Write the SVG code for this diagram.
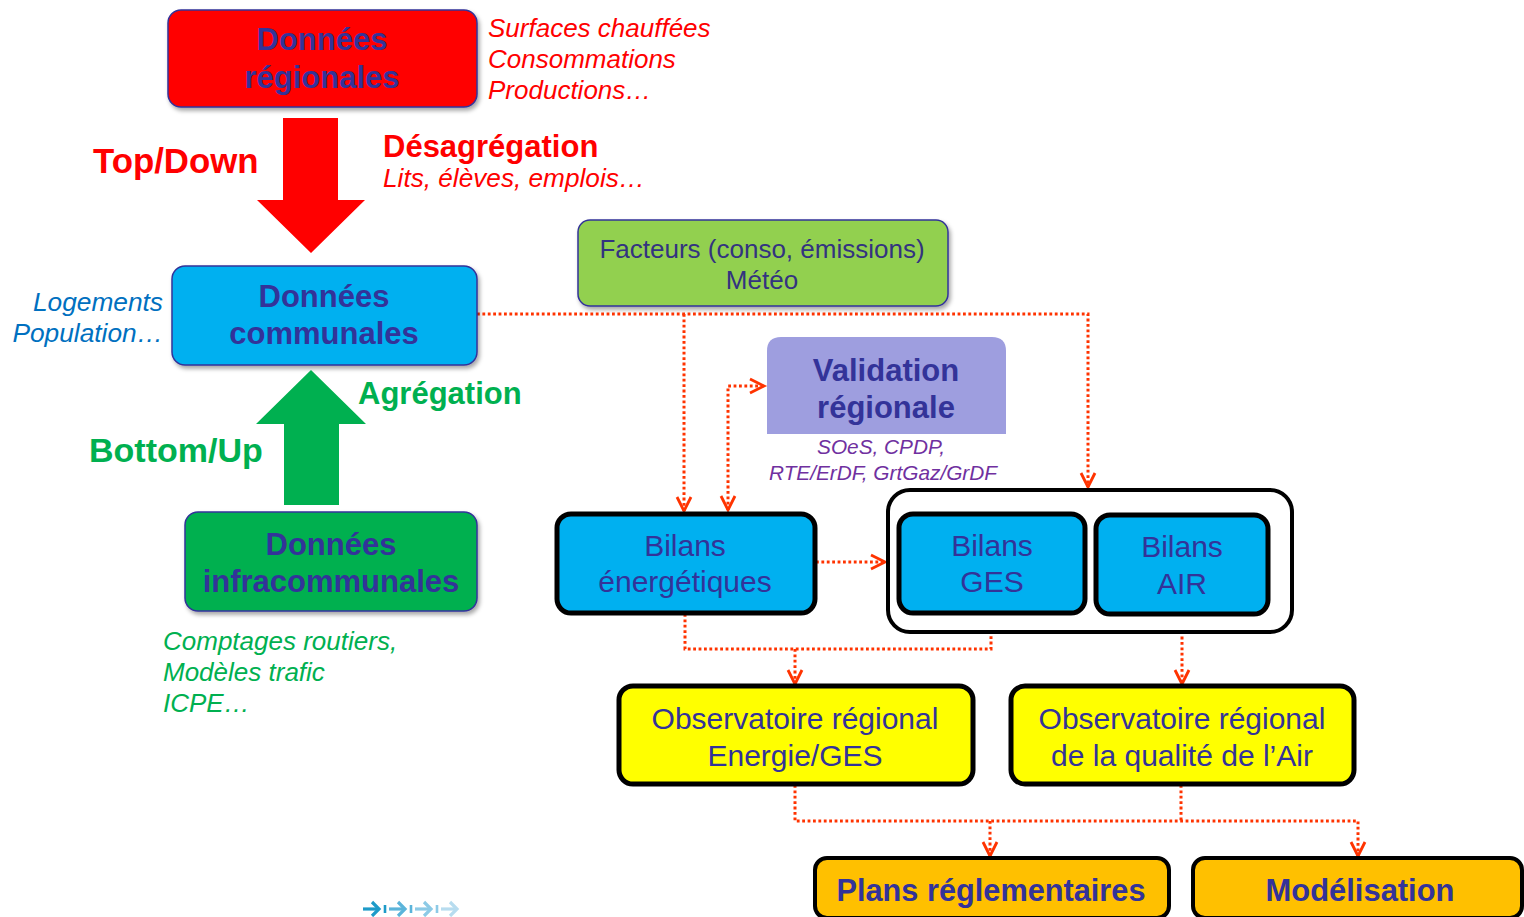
<svg xmlns="http://www.w3.org/2000/svg" width="1524" height="917" viewBox="0 0 1524 917">
<defs>
<filter id="sh" x="-10%" y="-10%" width="125%" height="130%">
<feDropShadow dx="2" dy="3" stdDeviation="2" flood-color="#000" flood-opacity="0.35"/>
</filter>
<marker id="ah" markerUnits="userSpaceOnUse" markerWidth="20" markerHeight="20" refX="0" refY="0" viewBox="-16 -10 20 20" orient="auto-start-reverse">
<path d="M-14,-7 L0,0 L-14,7" fill="none" stroke="#ff3300" stroke-width="2.8" stroke-dasharray="none"/>
</marker>
<style>
.t{font-family:"Liberation Sans",Arial,sans-serif;}
.hb{font-weight:bold;fill:#333399;font-size:31px;text-anchor:middle;}
.hn{fill:#333399;font-size:30px;text-anchor:middle;}
.it{font-style:italic;}
.box{stroke:#333399;stroke-width:1.5;}
.bk{stroke:#000;stroke-width:5;}
.con{fill:none;stroke:#ff3300;stroke-width:3;stroke-dasharray:2.8 2.6;}
</style>
</defs>
<rect width="1524" height="917" fill="#fff"/>

<g id="connectors">
<path class="con" d="M477,314 H1088 V487" marker-end="url(#ah)"/>
<path class="con" d="M684,314 V511" marker-end="url(#ah)"/>
<path class="con" d="M728,510 V386 H764" marker-start="url(#ah)" marker-end="url(#ah)"/>
<path class="con" d="M816,562 H885" marker-end="url(#ah)"/>
<path class="con" d="M685,614 V649 H991 V614"/>
<path class="con" d="M795,649 V684" marker-end="url(#ah)"/>
<path class="con" d="M1182,615 V684" marker-end="url(#ah)"/>
<path class="con" d="M795,785 V821 H1358 V856" marker-end="url(#ah)"/>
<path class="con" d="M1181,785 V821"/>
<path class="con" d="M990,821 V856" marker-end="url(#ah)"/>
</g>

<g id="regionales">
<rect class="box" x="168" y="10" width="309" height="97" rx="13" fill="#ff0000" filter="url(#sh)"/>
<text class="t hb" x="322" y="50">Données</text>
<text class="t hb" x="322" y="88">régionales</text>
</g>
<g id="regionales-notes" class="t it" fill="#ff0000" font-size="26px">
<text x="488" y="37">Surfaces chauffées</text>
<text x="488" y="68">Consommations</text>
<text x="488" y="99">Productions…</text>
</g>

<g id="topdown">
<path d="M283,118 H338 V200 H365 L311,253 L257,200 H283 Z" fill="#ff0000"/>
<text class="t" x="93" y="173" font-size="34.8px" font-weight="bold" fill="#ff0000">Top/Down</text>
<text class="t" x="383" y="157" font-size="31px" font-weight="bold" fill="#ff0000">Désagrégation</text>
<text class="t it" x="383" y="187" font-size="26.2px" fill="#ff0000">Lits, élèves, emplois…</text>
</g>

<g id="facteurs">
<rect class="box" x="578" y="220" width="370" height="86" rx="12" fill="#92d050" filter="url(#sh)"/>
<text class="t" x="762" y="258" font-size="26px" fill="#333380" text-anchor="middle">Facteurs (conso, émissions)</text>
<text class="t" x="762" y="289" font-size="26px" fill="#333380" text-anchor="middle">Météo</text>
</g>

<g id="communales">
<rect class="box" x="172" y="266" width="305" height="99" rx="13" fill="#00b0f0" filter="url(#sh)"/>
<text class="t hb" x="324" y="307">Données</text>
<text class="t hb" x="324" y="344">communales</text>
</g>
<g id="communales-notes" class="t it" fill="#0070c0" font-size="26.3px" text-anchor="end">
<text x="163" y="311">Logements</text>
<text x="163" y="342">Population…</text>
</g>

<g id="bottomup">
<path d="M284,505 H339 V424 H366 L311,370 L256,424 H284 Z" fill="#00b050"/>
<text class="t" x="358" y="404" font-size="31px" font-weight="bold" fill="#00b050">Agrégation</text>
<text class="t" x="89" y="462" font-size="34px" font-weight="bold" fill="#00b050">Bottom/Up</text>
</g>

<g id="infracommunales">
<rect class="box" x="185" y="512" width="292" height="99" rx="13" fill="#00b050" filter="url(#sh)"/>
<text class="t hb" x="331" y="555">Données</text>
<text class="t hb" x="331" y="592">infracommunales</text>
</g>
<g id="infra-notes" class="t it" fill="#00b050" font-size="26px">
<text x="163" y="650">Comptages routiers,</text>
<text x="163" y="681">Modèles trafic</text>
<text x="163" y="712">ICPE…</text>
</g>

<g id="validation">
<path d="M767,434 V351 Q767,337 781,337 H992 Q1006,337 1006,351 V434 Z" fill="#9e9edf"/>
<text class="t hb" x="886" y="381">Validation</text>
<text class="t hb" x="886" y="418">régionale</text>
<text class="t it" x="881" y="454" font-size="20.8px" fill="#7030a0" text-anchor="middle">SOeS, CPDP,</text>
<text class="t it" x="883" y="480" font-size="20.8px" fill="#7030a0" text-anchor="middle">RTE/ErDF, GrtGaz/GrDF</text>
</g>

<g id="bilans-energetiques">
<rect class="bk" x="557" y="514" width="258" height="99" rx="14" fill="#00b0f0"/>
<text class="t hn" x="685" y="556">Bilans</text>
<text class="t hn" x="685" y="592">énergétiques</text>
</g>

<g id="bilans-groupe">
<rect x="888" y="490" width="404" height="142" rx="22" fill="#fff" stroke="#000" stroke-width="4"/>
</g>

<g id="bilans-ges">
<rect class="bk" x="899" y="514" width="186" height="99" rx="14" fill="#00b0f0"/>
<text class="t hn" x="992" y="556">Bilans</text>
<text class="t hn" x="992" y="592">GES</text>
</g>

<g id="bilans-air">
<rect class="bk" x="1096" y="515" width="172" height="99" rx="14" fill="#00b0f0"/>
<text class="t hn" x="1182" y="557">Bilans</text>
<text class="t hn" x="1182" y="594">AIR</text>
</g>

<g id="obs-energie">
<rect class="bk" x="619" y="686" width="354" height="98" rx="14" fill="#ffff00"/>
<text class="t hn" x="795" y="729" font-size="30.5px">Observatoire régional</text>
<text class="t hn" x="795" y="766" font-size="30.5px">Energie/GES</text>
</g>

<g id="obs-air">
<rect class="bk" x="1011" y="686" width="343" height="98" rx="14" fill="#ffff00"/>
<text class="t hn" x="1182" y="729" font-size="30.5px">Observatoire régional</text>
<text class="t hn" x="1182" y="766" font-size="30.5px">de la qualité de l’Air</text>
</g>

<g id="plans">
<rect x="815" y="858" width="354" height="60" rx="12" fill="#ffc000" stroke="#000" stroke-width="4"/>
<text class="t hb" x="991" y="901" font-size="34px" textLength="309" lengthAdjust="spacingAndGlyphs">Plans réglementaires</text>
</g>

<g id="modelisation">
<rect x="1193" y="858" width="329" height="60" rx="12" fill="#ffc000" stroke="#000" stroke-width="4"/>
<text class="t hb" x="1360" y="901" font-size="34px" textLength="189" lengthAdjust="spacingAndGlyphs">Modélisation</text>
</g>

<g id="logo" fill="none" stroke-width="3.2">
<g stroke="#1e9bc8"><path d="M363,909 H378"/><path d="M372,902 L379,909 L372,916"/><path d="M385,905 V913" stroke-width="2.6"/></g>
<g stroke="#5bb4da"><path d="M389,909 H404"/><path d="M398,902 L405,909 L398,916"/><path d="M411,905 V913" stroke-width="2.6"/></g>
<g stroke="#8ccae6"><path d="M415,909 H430"/><path d="M424,902 L431,909 L424,916"/><path d="M437,905 V913" stroke-width="2.6"/></g>
<g stroke="#b7dcef"><path d="M441,909 H456"/><path d="M450,902 L457,909 L450,916"/></g>
</g>
</svg>
